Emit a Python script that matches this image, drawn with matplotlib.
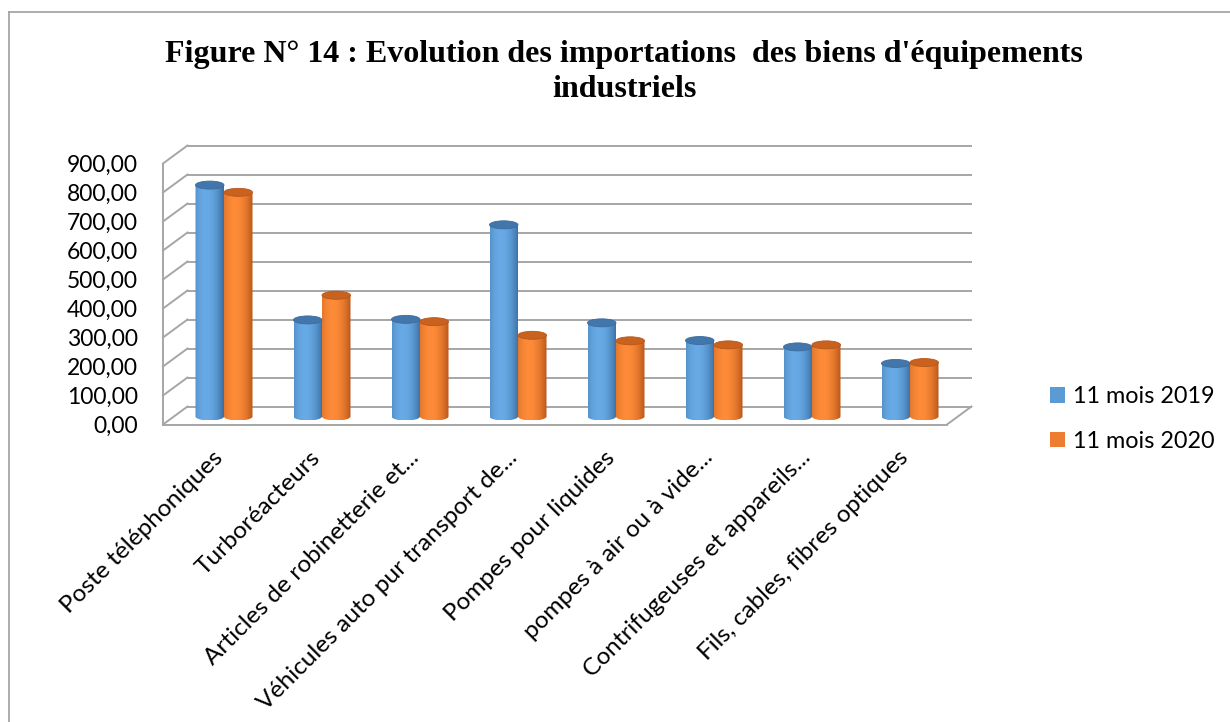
import numpy as np
import matplotlib
matplotlib.use('Agg')
import matplotlib.pyplot as plt
from matplotlib.transforms import ScaledTranslation
from matplotlib.patches import Ellipse, PathPatch, Patch
from matplotlib.path import Path
from matplotlib.colors import to_rgb
from matplotlib.lines import Line2D

# ---------------- data ----------------
categories = [
    "Poste téléphoniques",
    "Turboréacteurs",
    "Articles de robinetterie et...",
    "Véhicules auto pur transport de...",
    "Pompes pour liquides",
    "pompes à air ou à vide...",
    "Contrifugeuses et appareils...",
    "Fils, cables, fibres optiques",
]
series_names = ["11 mois 2019", "11 mois 2020"]
values_2019 = [798, 333, 335, 661, 323, 262, 240, 183]
values_2020 = [773, 418, 327, 280, 261, 247, 247, 186]
y_ticks = [0, 100, 200, 300, 400, 500, 600, 700, 800, 900]
title = "Figure N° 14 : Evolution des importations  des biens d'équipements\nindustriels"

# ---------------- style ----------------
plt.rcParams['font.family'] = ['Lato', 'DejaVu Sans']
W, H = 1230, 722
GRID = '#a6a6a6'
BLUE_DARK, BLUE_LIGHT, BLUE_CAP = '#3a6c9f', '#68aae6', '#4377ab'
ORG_DARK, ORG_LIGHT, ORG_CAP = '#b8561a', '#fd8b38', '#c8621e'
LEG_BLUE, LEG_ORG = '#5B9BD5', '#ED7D31'

fig = plt.figure(figsize=(W / 100, H / 100), dpi=100)
fig.patch.set_facecolor('white')

# outer frame
fig.add_artist(Line2D([8.5 / W, 8.5 / W], [0, 1 - 11.5 / H], transform=fig.transFigure,
                      color=GRID, lw=1.3))
fig.add_artist(Line2D([8.5 / W, 1], [1 - 11.5 / H, 1 - 11.5 / H], transform=fig.transFigure,
                      color=GRID, lw=1.3))

ax = fig.add_axes([163 / W, (H - 424.5) / H, 784 / W, 261 / H])
ax.set_facecolor('none')
for s in ax.spines.values():
    s.set_visible(False)

n = len(categories)
x = np.arange(n)
ymax = y_ticks[-1]

# depth offsets (pixels converted to data units)
px_per_cat = 784 / n
px_per_val = 261 / ymax
BX = 24.5 / px_per_cat
BY = 18.0 / px_per_val

# back wall gridlines + side wall diagonals
for v in y_ticks:
    ax.plot([-0.5 + BX, n - 0.5 + BX], [v + BY, v + BY], color=GRID, lw=1.4,
            clip_on=False, zorder=1, solid_capstyle='butt')
    ax.plot([-0.5, -0.5 + BX], [v, v + BY], color=GRID, lw=1.4, clip_on=False, zorder=1)
# front edges and floor
ax.plot([-0.5, -0.5], [0, ymax], color=GRID, lw=1.4, clip_on=False, zorder=1)
ax.plot([-0.5, n - 0.5], [0, 0], color=GRID, lw=1.4, clip_on=False, zorder=5)
ax.plot([n - 0.5, n - 0.5 + BX], [0, BY], color=GRID, lw=1.4, clip_on=False, zorder=1)

# bars (cylinders) at mid depth
bar_tr = ax.transData + ScaledTranslation(12 / 100, 8 / 100, fig.dpi_scale_trans)
bw = 28.5 / px_per_cat
eh = 8.0 / px_per_val


def gradient(dark, light, N=64):
    t = np.linspace(0, 1, N)
    f = 1 - np.clip(np.abs(t - 0.38) / 0.62, 0, 1) ** 2
    d, l = np.array(to_rgb(dark)), np.array(to_rgb(light))
    return (d[None, :] + (l - d)[None, :] * f[:, None])[None, :, :]


for vals, off, dark, light, cap in [
    (values_2019, -bw / 2, BLUE_DARK, BLUE_LIGHT, BLUE_CAP),
    (values_2020, bw / 2, ORG_DARK, ORG_LIGHT, ORG_CAP),
]:
    rects = ax.bar(x + off, vals, bw, transform=bar_tr, alpha=0)
    grad = gradient(dark, light)
    for r in rects:
        x0, w, h = r.get_x(), r.get_width(), r.get_height()
        xc = x0 + w / 2
        t = np.linspace(np.pi, 2 * np.pi, 40)
        verts = [(x0, h), (x0, 0)] + [(xc + w / 2 * np.cos(a), eh / 2 * np.sin(a)) for a in t] \
                + [(x0 + w, h), (x0, h)]
        codes = [Path.MOVETO] + [Path.LINETO] * (len(verts) - 2) + [Path.CLOSEPOLY]
        body = PathPatch(Path(verts, codes), transform=bar_tr, facecolor='none',
                         edgecolor='none', zorder=3)
        ax.add_patch(body)
        im = ax.imshow(grad, extent=[x0, x0 + w, -eh / 2, h], transform=bar_tr,
                       aspect='auto', interpolation='bilinear', zorder=3)
        im.set_clip_path(body)
        ax.add_patch(Ellipse((xc, h), w, eh, transform=bar_tr, facecolor=cap,
                             edgecolor=dark, lw=0.6, zorder=4))

ax.set_xlim(-0.5, n - 0.5)
ax.set_ylim(0, ymax)

ax.set_yticks(y_ticks)
ax.set_yticklabels([f"{v:.2f}".replace('.', ',') for v in y_ticks], fontsize=16.5)
ax.tick_params(axis='y', length=0, pad=18)
ax.set_xticks(x)
ax.set_xticklabels(categories, rotation=45, ha='right', va='top', rotation_mode='anchor',
                   fontsize=17.6)
ax.tick_params(axis='x', length=0, pad=16)

handles = [Patch(facecolor=LEG_BLUE), Patch(facecolor=LEG_ORG)]
fig.legend(handles, series_names, loc='center left', bbox_to_anchor=(1038 / W, 1 - 419 / H),
           frameon=False, fontsize=16.8, handlelength=0.65, handleheight=0.65,
           handletextpad=0.35, labelspacing=1.0, borderpad=0)

fig.text(624 / W, 1 - 72 / H, title, ha='center', va='center', multialignment='center',
         fontfamily='Liberation Serif', fontweight='bold', fontsize=23, linespacing=1.25)

fig.savefig('out.png', dpi=100, facecolor='white')
